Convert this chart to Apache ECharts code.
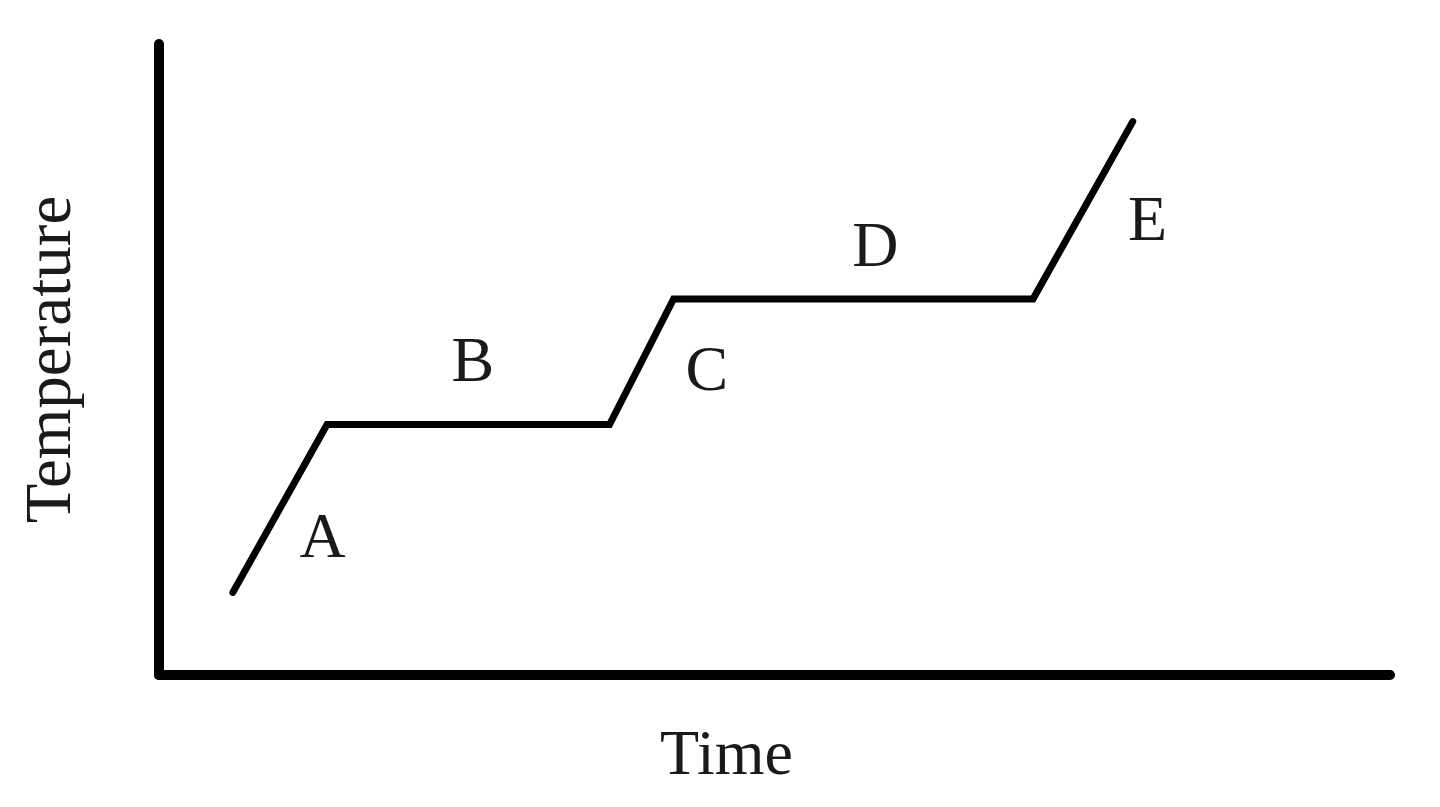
<!DOCTYPE html>
<html>
<head>
<meta charset="utf-8">
<style>
  html, body { margin: 0; padding: 0; background: #ffffff; }
  #chart { width: 1440px; height: 807px; }
</style>
<script src="https://cdn.jsdelivr.net/npm/echarts@6/dist/echarts.min.js"></script>
</head>
<body>
<div id="chart"></div>
<script>
// Heating curve vertices (time, temperature) in arbitrary units
const timeValues = [6.0, 13.65, 36.6, 41.8, 71.0, 79.1];
const tempValues = [13.1, 39.7, 39.7, 59.6, 59.6, 87.7];

// Segment labels and their positions (data units)
const phaseLabels = ['A', 'B', 'C', 'D', 'E'];
const labelTime = [13.3, 25.5, 44.5, 58.2, 80.3];
const labelTemp = [21.3, 49.2, 47.9, 67.5, 71.6];

const xAxisName = 'Time';
const yAxisName = 'Temperature';

const curveData = timeValues.map((t, i) => [t, tempValues[i]]);
const labelData = phaseLabels.map((n, i) => ({ value: [labelTime[i], labelTemp[i]], name: n }));

const chart = echarts.init(document.getElementById('chart'), null, { renderer: 'canvas' });
const fontFamily = '"Liberation Serif", "DejaVu Serif", serif';

chart.setOption({
  animation: false,
  backgroundColor: '#ffffff',
  grid: { left: 159, right: 50, top: 44, bottom: 132 },
  xAxis: {
    type: 'value', min: 0, max: 100,
    name: xAxisName, nameLocation: 'middle', nameGap: 50,
    nameTextStyle: { fontFamily, fontSize: 64, color: '#1a1a1a', padding: [0, 96, 0, 0] },
    axisLine: { show: true, onZero: false, lineStyle: { color: '#000', width: 10, cap: 'round' } },
    axisTick: { show: false }, axisLabel: { show: false }, splitLine: { show: false }
  },
  yAxis: {
    type: 'value', min: 0, max: 100,
    name: yAxisName, nameLocation: 'middle', nameGap: 74, nameRotate: 90,
    nameTextStyle: { fontFamily, fontSize: 65, color: '#1a1a1a' },
    axisLine: { show: true, onZero: false, lineStyle: { color: '#000', width: 10, cap: 'round' } },
    axisTick: { show: false }, axisLabel: { show: false }, splitLine: { show: false }
  },
  series: [
    {
      type: 'line', data: curveData, symbol: 'none',
      lineStyle: { color: '#000', width: 7, cap: 'round', join: 'miter' },
      silent: true
    },
    {
      type: 'scatter', data: labelData, symbolSize: 0,
      itemStyle: { opacity: 1 },
      label: {
        show: true, position: 'inside', formatter: '{b}',
        fontFamily, fontSize: 64, color: '#1a1a1a'
      },
      silent: true
    }
  ]
});
</script>
</body>
</html>
